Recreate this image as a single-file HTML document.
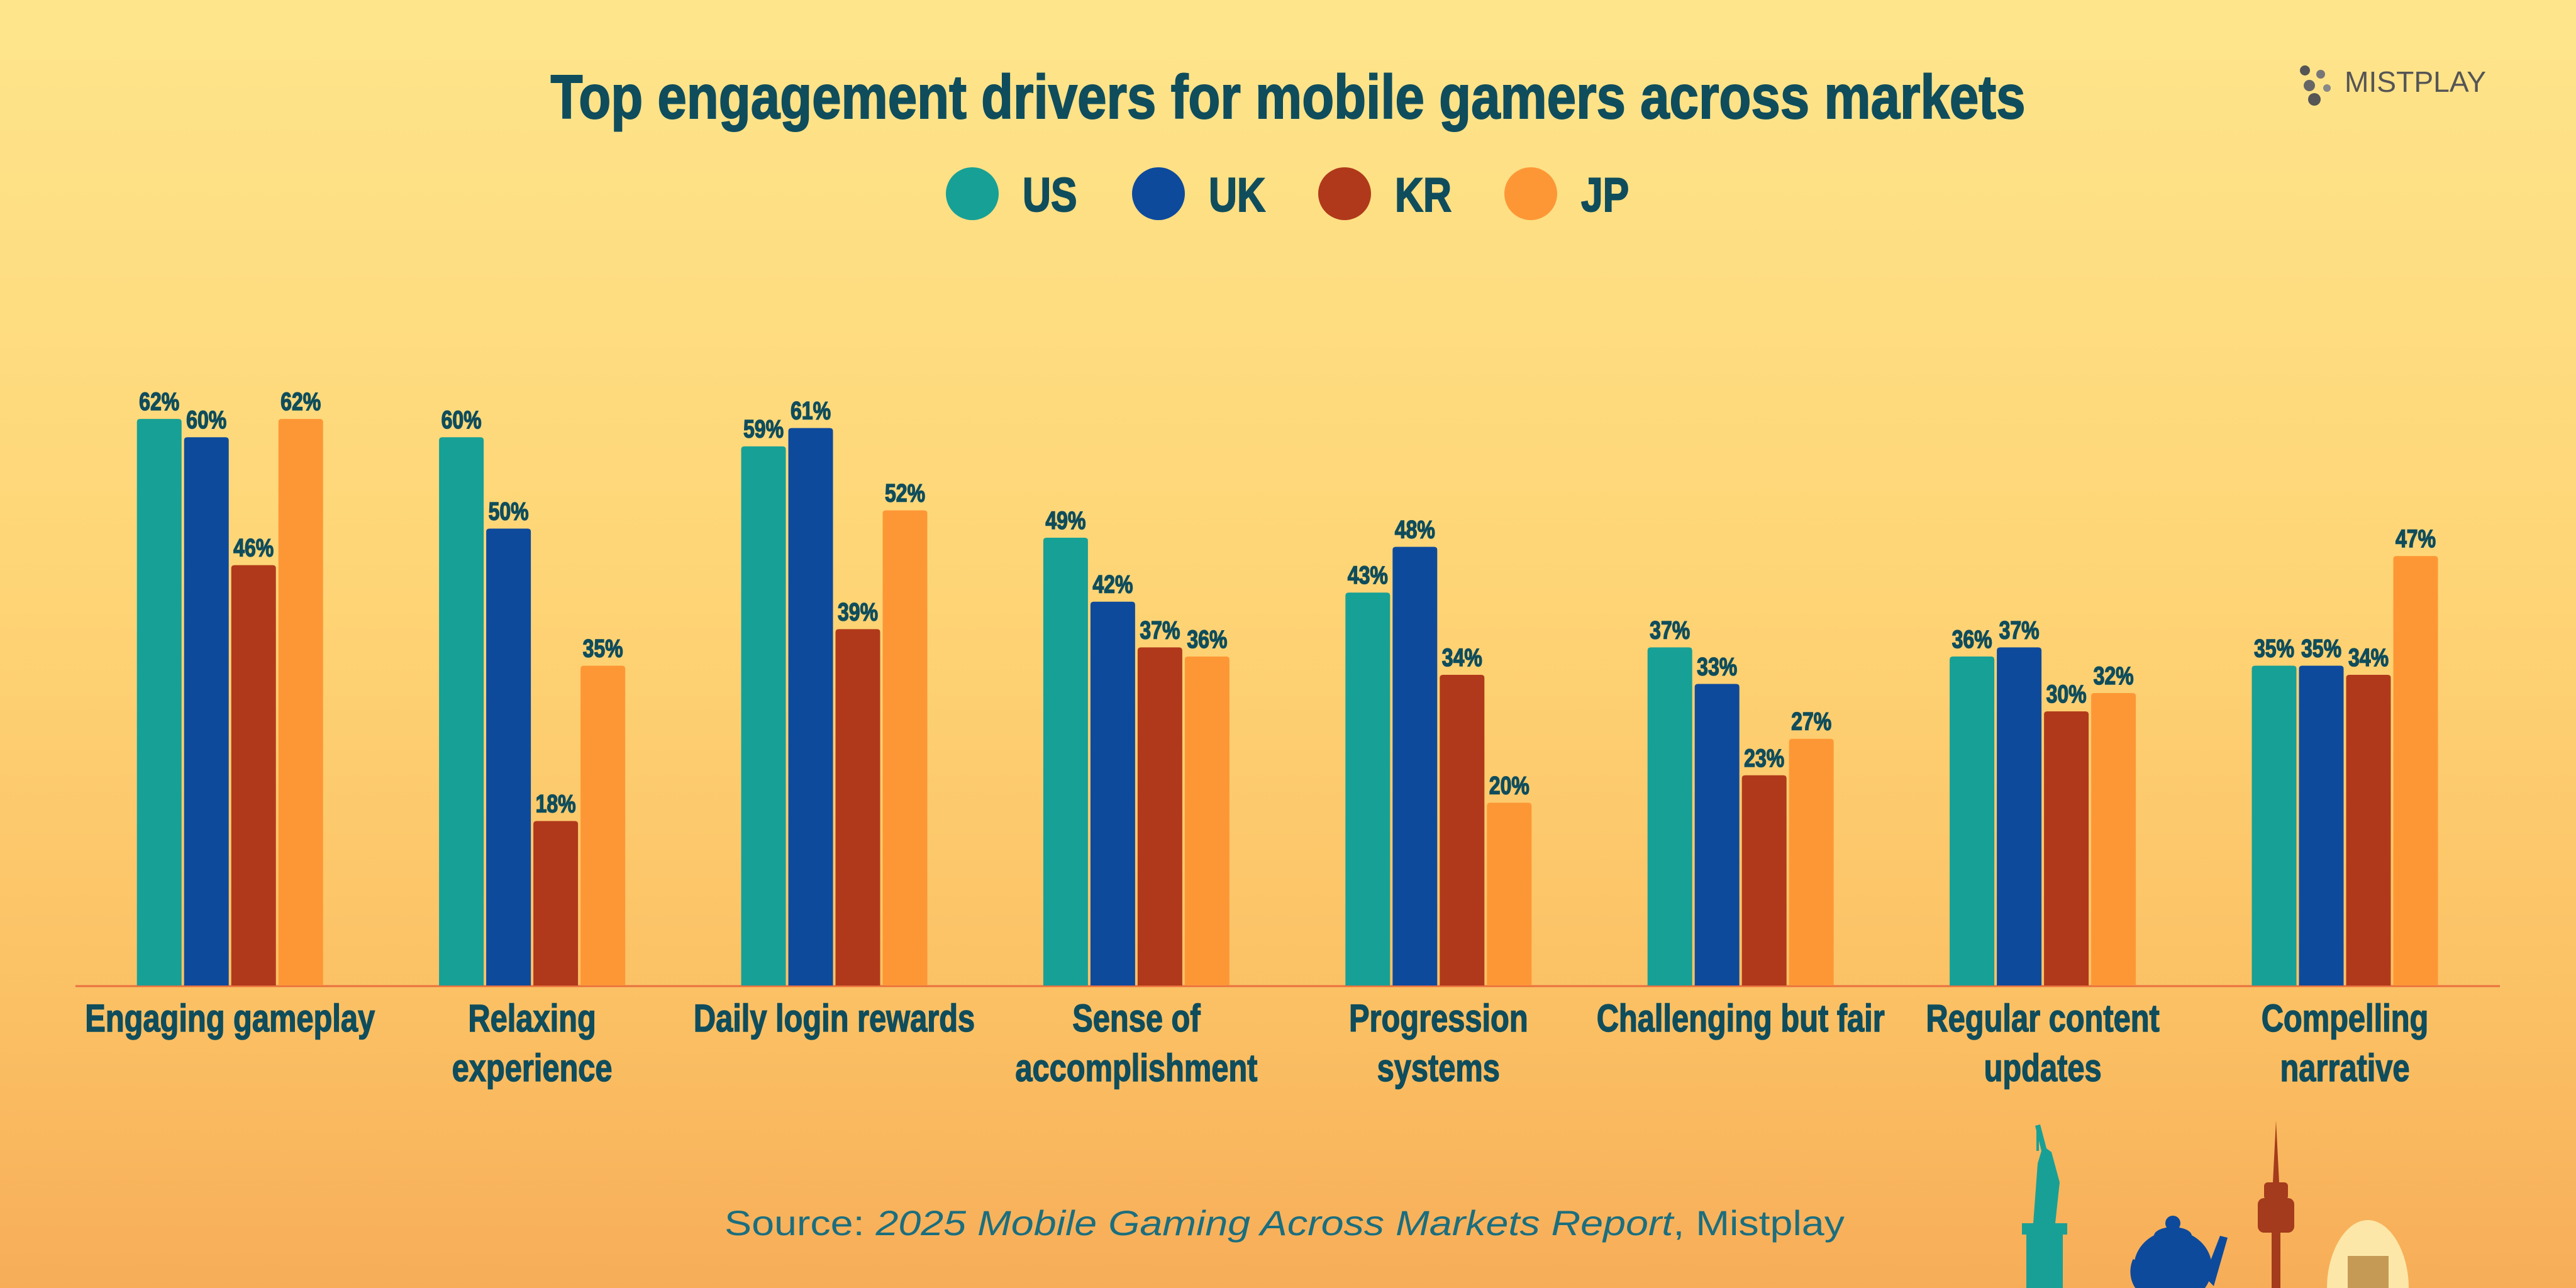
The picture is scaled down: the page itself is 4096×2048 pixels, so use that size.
<!DOCTYPE html>
<html><head><meta charset="utf-8"><style>html,body{margin:0;padding:0;}svg{display:block}</style></head>
<body>
<svg id="chart" xmlns="http://www.w3.org/2000/svg" width="4096" height="2048" viewBox="0 0 4096 2048">
<defs>
<linearGradient id="bg" x1="0" y1="0" x2="0" y2="1">
<stop offset="0" stop-color="#fee58c"/><stop offset="0.45" stop-color="#fed576"/><stop offset="0.8" stop-color="#fbbf63"/><stop offset="1" stop-color="#f7ad58"/>
</linearGradient>
</defs>
<rect x="0" y="0" width="4096" height="2048" fill="url(#bg)"/>
<text x="2048" y="188" text-anchor="middle" font-family="Liberation Sans, sans-serif" font-weight="bold" font-size="98" fill="#0f4d5c" stroke="#0f4d5c" stroke-width="2" textLength="2345" lengthAdjust="spacingAndGlyphs">Top engagement drivers for mobile gamers across markets</text>
<g>
<circle cx="3665" cy="112" r="8" fill="#555"/><circle cx="3690" cy="118" r="7" fill="#777"/><circle cx="3672" cy="136" r="9" fill="#666"/><circle cx="3700" cy="140" r="6" fill="#888"/><circle cx="3680" cy="158" r="10" fill="#555"/>
<text x="3728" y="146" font-family="Liberation Sans, sans-serif" font-size="46" fill="#555" textLength="225" lengthAdjust="spacingAndGlyphs">MISTPLAY</text>
</g>
<g id="legend"></g>
<line x1="120" y1="1568" x2="3975" y2="1568" stroke="#e8703e" stroke-width="3"/>
<g id="bars"></g>
<g id="labels"></g>
<g>
<g fill="#18a096">
<rect x="3222" y="1960" width="58" height="88"/><rect x="3215" y="1945" width="72" height="18"/><path d="M3233 1945 L3240 1850 L3246 1830 L3236 1790 L3244 1788 L3254 1826 L3262 1832 L3275 1880 L3268 1945 Z"/><rect x="3238" y="1790" width="4" height="40"/>
</g>
<g fill="#0d4a9c">
<ellipse cx="3455" cy="2015" rx="62" ry="58"/><circle cx="3455" cy="1945" r="12"/><ellipse cx="3455" cy="1965" rx="30" ry="14"/><path d="M3398 2005 a24 32 0 1 0 10 -12" fill="none" stroke="#0d4a9c" stroke-width="14"/><path d="M3505 2030 L3530 1965 L3542 1968 L3520 2045 Z"/>
</g>
<g fill="#a33b1c">
<rect x="3612" y="1960" width="14" height="90"/><rect x="3590" y="1905" width="58" height="55" rx="10"/><rect x="3600" y="1880" width="38" height="28" rx="6"/><path d="M3614 1880 L3619 1782 L3624 1880 Z"/>
</g>
<g>
<path d="M3700 2048 C3700 1990 3730 1940 3765 1940 C3800 1940 3830 1990 3830 2048 Z" fill="#fde7a8"/><rect x="3733" y="1997" width="65" height="51" fill="#c49a55"/>
</g>
</g>
<text x="1152" y="1964" font-family="Liberation Sans, sans-serif" font-size="56" fill="#1b6e7e" textLength="1781" lengthAdjust="spacingAndGlyphs">Source: <tspan font-style="italic">2025 Mobile Gaming Across Markets Report</tspan>, Mistplay</text>
</svg>
<script>
const categories = [["Engaging gameplay"],["Relaxing","experience"],["Daily login rewards"],["Sense of","accomplishment"],["Progression","systems"],["Challenging but fair"],["Regular content","updates"],["Compelling","narrative"]];
const seriesNames = ["US","UK","KR","JP"];
const usValues = [62,60,59,49,43,37,36,35];
const ukValues = [60,50,61,42,48,33,37,35];
const krValues = [46,18,39,37,34,23,30,34];
const jpValues = [62,35,52,36,20,27,32,47];
const seriesValues = [usValues, ukValues, krValues, jpValues];
const colors = ["#17a096","#0d4a9c","#b0391b","#fd9736"];
const NS = "http://www.w3.org/2000/svg";
const baseY = 1567, pxPerPct = 14.53;
function yScale(v){ return baseY - v*pxPerPct; }
function groupX(i){ return 365.7 + i*480.4; }
const barStep = 75, barW = 71;
function barX(i, s){ return groupX(i) - 2*barStep + s*barStep + 2; }
function mk(tag, attrs, parent){ const e=document.createElementNS(NS,tag); for(const k in attrs) e.setAttribute(k, attrs[k]); parent.appendChild(e); return e; }
const bars = document.getElementById('bars');
const labels = document.getElementById('labels');
const legend = document.getElementById('legend');
seriesValues.forEach((vals, s) => {
  vals.forEach((v, i) => {
    const x = barX(i, s), y = yScale(v);
    const r = mk('path', {d:`M${x} ${baseY} L${x} ${y+5} Q${x} ${y} ${x+5} ${y} L${x+barW-5} ${y} Q${x+barW} ${y} ${x+barW} ${y+5} L${x+barW} ${baseY} Z`, fill:colors[s]}, bars);
    
    
    const g = mk('g', {transform:`translate(${x+barW/2},${y-14}) scale(0.8,1)`}, bars);
    const t = mk('text', {x:0, y:0, 'text-anchor':'middle', 'font-family':'Liberation Sans, sans-serif', 'font-weight':'bold', 'font-size':'40', fill:'#0f4d5c', stroke:'#0f4d5c', 'stroke-width':'1.5'}, g);
    t.textContent = v + '%';
    
    
  });
});
categories.forEach((lines, i) => {
  lines.forEach((ln, j) => {
    const g = mk('g', {transform:`translate(${groupX(i)},${1640 + j*79}) scale(0.8,1)`}, labels);
    const t = mk('text', {x:0, y:0, 'text-anchor':'middle', 'font-family':'Liberation Sans, sans-serif', 'font-weight':'bold', 'font-size':'61', fill:'#0f4d5c', stroke:'#0f4d5c', 'stroke-width':'1.5'}, g);
    t.textContent = ln;
    
    
  });
});
seriesNames.forEach((n, s) => {
  const cx = 1546 + s*296;
  const c = mk('circle', {cx:cx, cy:308, r:42, fill:colors[s]}, legend);
  
  
  const g = mk('g', {transform:`translate(${cx+80},336) scale(0.82,1)`}, legend);
  const t = mk('text', {x:0, y:0, 'font-family':'Liberation Sans, sans-serif', 'font-weight':'bold', 'font-size':'76', fill:'#0f4d5c', stroke:'#0f4d5c', 'stroke-width':'2'}, g);
  t.textContent = n;
  
  
});
</script>
</body></html>
